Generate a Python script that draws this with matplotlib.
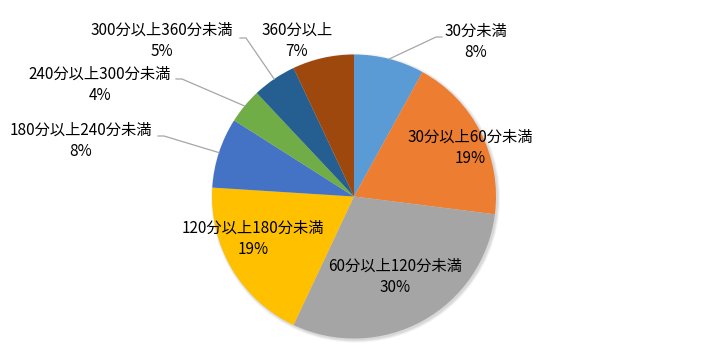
import numpy as np
import matplotlib
matplotlib.use('Agg')
import matplotlib.pyplot as plt
from matplotlib.patches import Circle

plt.rcParams['font.family'] = ['Noto Sans CJK JP', 'DejaVu Sans']

# data
labels = ['30分未満', '30分以上60分未満', '60分以上120分未満', '120分以上180分未満',
          '180分以上240分未満', '240分以上300分未満', '300分以上360分未満', '360分以上']
shares = [8, 19, 30, 19, 8, 4, 5, 7]
colors = ['#5B9BD5', '#ED7D31', '#A5A5A5', '#FFC000',
          '#4472C4', '#70AD47', '#255E91', '#9E480E']

# label block centres in pixel coords (y from top)
label_pos = [(476, 42), (470, 148), (395, 277), (253, 239),
             (81, 141), (100, 85), (162, 41), (297, 41)]
# leader line start (text side), None = no leader
leader_start = [(442, 37), None, None, None,
                (158, 136), (176, 79), (240, 38), None]

W, H = 710, 359
cx, cy, R = 354, 196.5, 142

fig = plt.figure(figsize=(7.1, 3.59), dpi=100)
ax = fig.add_axes([0, 0, 1, 1])
ax.set_xlim(0, W)
ax.set_ylim(0, H)
ax.set_aspect('equal')
ax.axis('off')

# soft shadow
for k, a in enumerate([0.05, 0.05, 0.06]):
    ax.add_patch(Circle((cx + 1.5, H - cy - 1.5), R + 2.5 - k, color='black',
                        alpha=a, lw=0, zorder=0))

wedges, _ = ax.pie(shares, colors=colors, startangle=90, counterclock=False,
                   center=(cx, H - cy), radius=R, frame=True,
                   wedgeprops=dict(linewidth=0))
ax.set_xlim(0, W)
ax.set_ylim(0, H)
ax.axis('off')

total = sum(shares)
cum = np.cumsum([0] + shares)
for i, (lab, s) in enumerate(zip(labels, shares)):
    x, y = label_pos[i]
    ax.text(x, H - y, f'{lab}\n{round(100 * s / total)}%', ha='center', va='center',
            fontsize=11, color='black', linespacing=1.3, zorder=5)
    if leader_start[i] is not None:
        mid = (cum[i] + cum[i + 1]) / 2 / total
        ang = np.deg2rad(90 - 360 * mid)
        ex, ey = cx + R * np.cos(ang), cy - R * np.sin(ang)
        sx, sy = leader_start[i]
        dx = 6 if ex < sx else -6
        ax.plot([sx, sx - dx, ex], [H - sy, H - sy, H - ey], color='#A6A6A6',
                lw=0.9, zorder=4)

fig.savefig('out.png', dpi=100)
